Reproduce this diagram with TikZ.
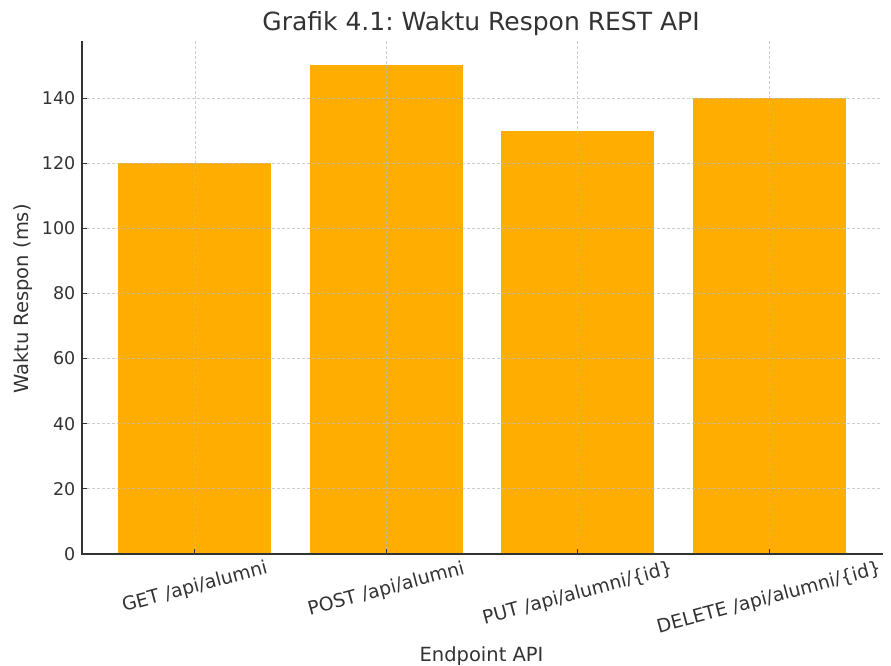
\documentclass[tikz,border=0pt]{standalone}
\usepackage{fontspec}
\setmainfont{DejaVu Sans}
\frenchspacing
\definecolor{barc}{HTML}{FFAD00}
\definecolor{txt}{HTML}{333333}
\definecolor{gridc}{HTML}{BDBDBD}
\tikzset{
  bar/.style={fill=barc, draw=none},
  gridline/.style={draw=gridc, line width=0.8pt, dash pattern=on 3pt off 2pt, opacity=0.75},
  spine/.style={draw=txt, line width=1.3pt},
  tickmark/.style={draw=txt, line width=1pt},
  ylab/.style={text=txt, font=\fontsize{17.5}{21}\selectfont, anchor=east, inner sep=0pt},
  xlab/.style={text=txt, font=\fontsize{18.8}{22}\selectfont, rotate=15, inner sep=0pt},
  axlab/.style={text=txt, font=\fontsize{19.5}{23}\selectfont, inner sep=0pt},
  ttl/.style={text=txt, font=\fontsize{25}{30}\selectfont, inner sep=0pt, anchor=base}
}
\begin{document}
\begin{tikzpicture}[x=1pt,y=-1pt]
\useasboundingbox (0,0) rectangle (891,666);
% bars
\foreach \cx/\v/\n in {194.9/120/get, 386.3/150/post, 577.7/130/put, 769.1/140/del}{
  \pgfmathsetmacro\yt{554-\v*3.2571}
  \path[bar] (\cx-76.55,554) rectangle (\cx+76.55,\yt);
  \coordinate (bar-\n) at (\cx,\yt);
}
% grid
\foreach \v in {20,40,...,140}{
  \pgfmathsetmacro\yy{554-\v*3.2571}
  \coordinate (gl\v) at (82,\yy);
  \coordinate (gr\v) at (882,\yy);
  \draw[gridline] (gl\v) -- (gr\v);
}
\foreach \cx/\n in {194.9/get, 386.3/post, 577.7/put, 769.1/del}{
  \coordinate (gt-\n) at (\cx,41);
  \coordinate (gb-\n) at (\cx,554);
  \draw[gridline] (gt-\n) -- (gb-\n);
}
% spines
\coordinate (o) at (82,554);
\coordinate (ytop) at (82,41);
\coordinate (xend) at (882.5,554);
\draw[spine] (ytop) -- (o) -- (xend);
% y ticks
\foreach \v in {0,20,...,140}{
  \pgfmathsetmacro\yy{554-\v*3.2571}
  \coordinate (yt\v) at (82,\yy);
  \coordinate (yi\v) at (87,\yy);
  \draw[tickmark] (yt\v) -- (yi\v);
  \node[ylab] (ytl\v) at (75.5,\yy) {\v};
}
% x ticks
\foreach \cx/\n in {194.9/get, 386.3/post, 577.7/put, 769.1/del}{
  \coordinate (xt-\n) at (\cx,554);
  \coordinate (xi-\n) at (\cx,549);
  \draw[tickmark] (xt-\n) -- (xi-\n);
}
\node[xlab] (lget) at (194.9,587.5) {GET /api/alumni};
\node[xlab] (lpost) at (386.3,589.5) {POST /api/alumni};
\node[xlab] (lput) at (577.7,594) {PUT /api/alumni/\{id\}};
\node[xlab] (ldel) at (769.1,598.5) {DELETE /api/alumni/\{id\}};
% axis labels
\node[axlab, rotate=90] (ylabel) at (23.5,299) {Waktu Respon (ms)};
\node[axlab, anchor=base] (xlabel) at (481.5,661) {Endpoint API};
\node[ttl] (title) at (481,31) {Grafik 4.1: Waktu Respon REST API};
\end{tikzpicture}
\end{document}
